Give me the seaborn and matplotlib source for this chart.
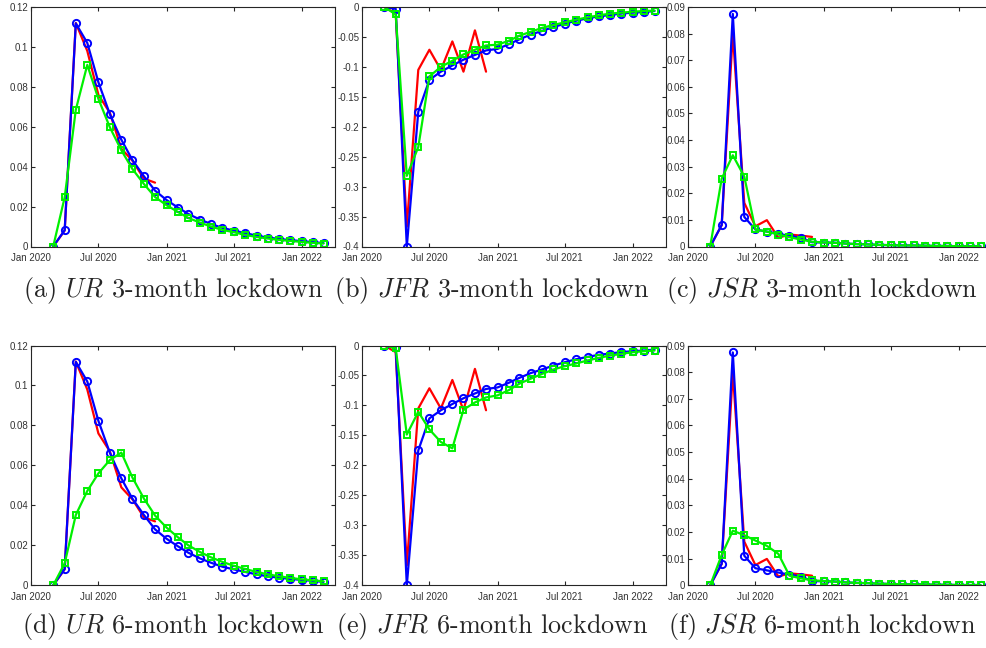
import numpy as np
import pandas as pd
import matplotlib
matplotlib.use("Agg")
import matplotlib.pyplot as plt
import seaborn as sns

# ---------------- data ----------------
months_model = pd.date_range("2020-03-01", "2022-03-01", freq="MS")
months_data = pd.date_range("2020-03-01", "2020-12-01", freq="MS")

# Unemployment rate (UR)
ur_data = [0, 0.008, 0.112, 0.098, 0.076, 0.067, 0.049, 0.043, 0.034, 0.032]
ur_base = [0, 0.0082, 0.1118, 0.102, 0.0823, 0.0663, 0.0535, 0.0433, 0.0352, 0.028,
           0.0233, 0.0195, 0.0163, 0.0135, 0.0113, 0.0093, 0.008, 0.0067, 0.0055,
           0.0045, 0.0038, 0.0032, 0.0027, 0.0022, 0.0017]
ur_3m = [0, 0.0247, 0.0685, 0.091, 0.074, 0.0597, 0.0482, 0.0388, 0.0313, 0.0248,
         0.0207, 0.0173, 0.0143, 0.012, 0.010, 0.0083, 0.0072, 0.0058, 0.0048,
         0.004, 0.0033, 0.0028, 0.0023, 0.0018, 0.0015]
ur_6m = [0, 0.011, 0.0352, 0.0472, 0.056, 0.0627, 0.0664, 0.0539, 0.0434, 0.0349,
         0.0289, 0.024, 0.020, 0.0167, 0.014, 0.0117, 0.0098, 0.0082, 0.0067,
         0.0055, 0.0045, 0.0037, 0.003, 0.0025, 0.002]

# Job finding rate (JFR)
jfr_data = [0, -0.011, -0.367, -0.105, -0.0714, -0.105, -0.0575, -0.108, -0.039, -0.108]
jfr_base = [0, -0.003, -0.4, -0.175, -0.1216, -0.108, -0.0976, -0.088, -0.080, -0.0725,
            -0.070, -0.062, -0.054, -0.046, -0.040, -0.0335, -0.028, -0.023, -0.019,
            -0.0156, -0.0134, -0.011, -0.0095, -0.0084, -0.0067]
jfr_3m = [0, -0.0123, -0.282, -0.234, -0.116, -0.0999, -0.0898, -0.0792, -0.0714, -0.0642,
          -0.063, -0.0563, -0.048, -0.0413, -0.035, -0.030, -0.0257, -0.0212, -0.0173,
          -0.014, -0.011, -0.0095, -0.0078, -0.0067, -0.006]
jfr_6m = [0, -0.0045, -0.1486, -0.1106, -0.140, -0.161, -0.1715, -0.107, -0.095, -0.0866,
          -0.0832, -0.0743, -0.0637, -0.0553, -0.0475, -0.040, -0.0346, -0.030, -0.025,
          -0.0207, -0.0168, -0.014, -0.0112, -0.0095, -0.0084]

# Job separation rate (JSR)
jsr_data = [0, 0.008, 0.080, 0.0164, 0.0076, 0.0099, 0.0033, 0.0045, 0.0041, 0.0036]
jsr_base = [0, 0.0081, 0.0874, 0.0111, 0.0064, 0.0056, 0.0048, 0.004, 0.0033, 0.0016,
            0.0015, 0.0014, 0.0011, 0.0009, 0.0008, 0.0006, 0.0005, 0.0004, 0.0004,
            0.0003, 0.0002, 0.0002, 0.0001, 0.0001, 0.0001]
jsr_3m = [0, 0.0255, 0.0343, 0.0263, 0.0064, 0.0056, 0.0045, 0.0035, 0.0026, 0.0018,
          0.0015, 0.0014, 0.0011, 0.0009, 0.0008, 0.0006, 0.0005, 0.0004, 0.0004,
          0.0003, 0.0002, 0.0002, 0.0001, 0.0001, 0.0001]
jsr_6m = [0, 0.0114, 0.0205, 0.0188, 0.0168, 0.0148, 0.0118, 0.0036, 0.0026, 0.0019,
          0.0016, 0.0014, 0.0011, 0.0009, 0.0008, 0.0006, 0.0005, 0.0004, 0.0004,
          0.0003, 0.0002, 0.0002, 0.0001, 0.0001, 0.0001]

x_tick_dates = ["2020-01-01", "2020-07-01", "2021-01-01", "2021-07-01", "2022-01-01"]
x_tick_labels = ["Jan 2020", "Jul 2020", "Jan 2021", "Jul 2021", "Jan 2022"]

ur_ticks = [0, 0.02, 0.04, 0.06, 0.08, 0.1, 0.12]
ur_tick_labels = ["0", "0.02", "0.04", "0.06", "0.08", "0.1", "0.12"]
jfr_ticks = [-0.4, -0.35, -0.3, -0.25, -0.2, -0.15, -0.1, -0.05, 0]
jfr_tick_labels = ["-0.4", "-0.35", "-0.3", "-0.25", "-0.2", "-0.15", "-0.1", "-0.05", "0"]
jsr_ticks = [0, 0.01, 0.02, 0.03, 0.04, 0.05, 0.06, 0.07, 0.08, 0.09]
jsr_tick_labels = ["0", "0.01", "0.02", "0.03", "0.04", "0.05", "0.06", "0.07", "0.08", "0.09"]

captions = ["(a) $UR$ 3-month lockdown", "(b) $JFR$ 3-month lockdown", "(c) $JSR$ 3-month lockdown",
            "(d) $UR$ 6-month lockdown", "(e) $JFR$ 6-month lockdown", "(f) $JSR$ 6-month lockdown"]

# ---------------- style ----------------
sns.set_style("ticks")
plt.rcParams["font.family"] = ["Liberation Sans", "DejaVu Sans"]
plt.rcParams["mathtext.fontset"] = "cm"
plt.rcParams["xtick.direction"] = "in"
plt.rcParams["ytick.direction"] = "in"

fig = plt.figure(figsize=(9.87, 6.48), dpi=100)
W, H = 987.0, 648.0

lefts = [31, 362, 688]
rows = [(7, 246.5), (345.5, 585.3)]
ax_w = 304

panels = [
    (ur_data, ur_base, ur_3m, ur_ticks, ur_tick_labels, (0, 0.12)),
    (jfr_data, jfr_base, jfr_3m, jfr_ticks, jfr_tick_labels, (-0.4, 0)),
    (jsr_data, jsr_base, jsr_3m, jsr_ticks, jsr_tick_labels, (0, 0.09)),
    (ur_data, ur_base, ur_6m, ur_ticks, ur_tick_labels, (0, 0.12)),
    (jfr_data, jfr_base, jfr_6m, jfr_ticks, jfr_tick_labels, (-0.4, 0)),
    (jsr_data, jsr_base, jsr_6m, jsr_ticks, jsr_tick_labels, (0, 0.09)),
]

caption_x = [173, 492, 822]
caption_y = [290, 627]

spine_col = "#262626"
for i, (d, base, alt, yt, ytl, ylim) in enumerate(panels):
    r, c = divmod(i, 3)
    top, bot = rows[r]
    ax = fig.add_axes([lefts[c] / W, (H - bot) / H, ax_w / W, (bot - top) / H])

    df_d = pd.DataFrame({"date": months_data, "v": d})
    df_b = pd.DataFrame({"date": months_model, "v": base})
    df_a = pd.DataFrame({"date": months_model, "v": alt})

    sns.lineplot(data=df_d, x="date", y="v", ax=ax, color="#ff0000", linewidth=1.6,
                 legend=False)
    sns.lineplot(data=df_b, x="date", y="v", ax=ax, color="#0000ff", linewidth=1.6,
                 marker="o", markersize=5.2, markerfacecolor="none",
                 markeredgecolor="#0000ff", markeredgewidth=1.4, legend=False)
    sns.lineplot(data=df_a, x="date", y="v", ax=ax, color="#00f000", linewidth=1.6,
                 marker="s", markersize=4.4, markerfacecolor="none",
                 markeredgecolor="#00f000", markeredgewidth=1.4, legend=False)

    ax.set_xlim(pd.Timestamp("2020-01-01"), pd.Timestamp("2022-04-01"))
    ax.set_ylim(*ylim)
    ax.set_xticks(pd.to_datetime(x_tick_dates))
    ax.set_xticklabels(x_tick_labels)
    ax.set_yticks(yt)
    ax.set_yticklabels(ytl)
    ax.set_xlabel("")
    ax.set_ylabel("")
    for s in ax.spines.values():
        s.set_visible(True)
        s.set_color(spine_col)
        s.set_linewidth(0.8)
    ax.tick_params(axis="both", which="both", direction="in", length=3, width=0.8,
                   color=spine_col, labelsize=7, labelcolor="#333333",
                   top=True, right=True)
    ax.tick_params(axis="x", pad=5)
    ax.tick_params(axis="y", pad=2)
    ax.set_facecolor("white")

    fig.text(caption_x[c] / W, 1 - caption_y[r] / H, captions[i],
             ha="center", va="center", fontsize=18.8, family="cmr10")

fig.savefig("out.png", dpi=100)
